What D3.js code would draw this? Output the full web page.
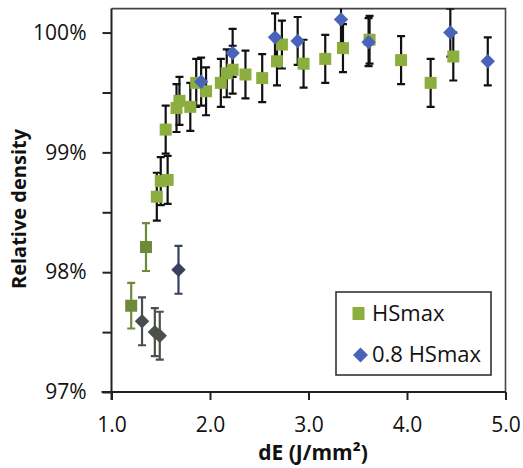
<!DOCTYPE html>
<html>
<head>
<meta charset="utf-8">
<script src="https://cdn.jsdelivr.net/npm/d3@7"></script>
<style>
  html, body { margin: 0; padding: 0; background: #ffffff; }
  svg { display: block; }
</style>
</head>
<body>
<svg id="chart" width="523" height="468"></svg>
<script>
// ---- data ----
const hsmaxX   = [1.20, 1.35, 1.46, 1.50, 1.57, 1.55, 1.66, 1.69, 1.80, 1.86, 1.96, 2.11, 2.17, 2.23, 2.36, 2.53, 2.68, 2.73, 2.95, 3.17, 3.35, 3.62, 3.94, 4.24, 4.47];
const hsmaxY   = [97.72, 98.21, 98.63, 98.76, 98.77, 99.19, 99.37, 99.43, 99.38, 99.58, 99.51, 99.58, 99.66, 99.69, 99.65, 99.62, 99.76, 99.90, 99.74, 99.78, 99.87, 99.94, 99.77, 99.58, 99.80];
const hsmaxErr = [0.19, 0.20, 0.20, 0.20, 0.20, 0.20, 0.20, 0.20, 0.20, 0.20, 0.20, 0.20, 0.20, 0.20, 0.20, 0.20, 0.20, 0.20, 0.20, 0.20, 0.20, 0.20, 0.20, 0.20, 0.20];

const hs08X    = [1.31, 1.44, 1.49, 1.68, 1.91, 2.23, 2.66, 2.89, 3.33, 3.61, 4.44, 4.82];
const hs08Y    = [97.59, 97.50, 97.47, 98.02, 99.59, 99.83, 99.96, 99.93, 100.11, 99.92, 100.00, 99.76];
const hs08Err  = [0.20, 0.20, 0.20, 0.20, 0.20, 0.20, 0.20, 0.20, 0.20, 0.20, 0.20, 0.20];

const seriesNames = ["HSmax", "0.8 HSmax"];
const xTicks = [1, 2, 3, 4, 5];
const yTicks = [97, 97.5, 98, 98.5, 99, 99.5, 100];
const yLabelTicks = [97, 98, 99, 100];
const xTitle = "dE (J/mm\u00B2)";
const yTitle = "Relative density";

// ---- layout ----
const L = 111.5, R = 505.5, T = 8.6, B = 392;
const svg = d3.select("#chart");
const x = d3.scaleLinear().domain([1, 5]).range([L, R]);
const y = d3.scaleLinear().domain([97, 100.2]).range([B, T]);

const green = "#8cae3e", blue = "#4a63b8";
const greenDark = "#6d8a3a";
const lowDiamond = d3.scaleLinear().domain([97.5, 98.0]).range(["#4b5149", "#38415d"]).clamp(true);
const lowLimit = 98.4;

const sq = hsmaxX.map((v, i) => ({x: v, y: hsmaxY[i], e: hsmaxErr[i], s: 0}));
const dm = hs08X.map((v, i) => ({x: v, y: hs08Y[i], e: hs08Err[i], s: 1}));
function markColor(d) {
  if (d.s === 0) return d.y < lowLimit ? greenDark : green;
  return d.y < lowLimit ? lowDiamond(d.y) : blue;
}
function barColor(d) { return d.y < lowLimit ? markColor(d) : "#111"; }

const font = "'Open Sans', 'Noto Sans', sans-serif";

// frame (top + right)
svg.append("path")
  .attr("d", `M${L},${T}H${R}V${B}`)
  .attr("fill", "none").attr("stroke", "#444").attr("stroke-width", 1.6);

// clip
svg.append("clipPath").attr("id", "plotClip")
  .append("rect").attr("x", L).attr("y", T).attr("width", R - L).attr("height", B - T);

// axes
const xAxis = d3.axisBottom(x).tickValues(xTicks).tickSize(8).tickFormat(d3.format(".1f"));
const gx = svg.append("g").attr("transform", `translate(0,${B})`).call(xAxis);
gx.select(".domain").attr("d", `M${L - 10},0H${R}`).attr("stroke", "#222").attr("stroke-width", 2);
gx.selectAll(".tick line").attr("stroke", "#222").attr("stroke-width", 2);
gx.selectAll(".tick text").attr("font-family", font).attr("font-size", 21).attr("fill", "#111").attr("dy", "1.37em");

const yAxis = d3.axisLeft(y).tickValues(yTicks).tickSize(9)
  .tickFormat(d => yLabelTicks.includes(d) ? d3.format("d")(d) + "%" : "");
const gy = svg.append("g").attr("transform", `translate(${L},0)`).call(yAxis);
gy.select(".domain").attr("d", `M0,${T}V${B + 8}`).attr("stroke", "#222").attr("stroke-width", 2);
gy.selectAll(".tick line").attr("stroke", "#222").attr("stroke-width", 2);
gy.selectAll(".tick text").attr("font-family", font).attr("font-size", 21).attr("fill", "#111").attr("x", -25);

// titles
svg.append("text").attr("x", 313).attr("y", 460).attr("text-anchor", "middle")
  .attr("font-family", font).attr("font-weight", "bold").attr("font-size", 21).attr("fill", "#111").text(xTitle);
svg.append("text").attr("transform", "translate(26,209) rotate(-90)").attr("text-anchor", "middle")
  .attr("font-family", font).attr("font-weight", "bold").attr("font-size", 20).attr("fill", "#111").text(yTitle);

// error bars
const plot = svg.append("g").attr("clip-path", "url(#plotClip)");
const all = sq.concat(dm);
const cap = 4;
const eb = plot.append("g").selectAll("g").data(all).join("g").attr("stroke-width", 2.2);
eb.append("line").attr("x1", d => x(d.x)).attr("x2", d => x(d.x))
  .attr("y1", d => y(d.y + d.e)).attr("y2", d => y(d.y - d.e)).attr("stroke", barColor);
eb.append("line").attr("x1", d => x(d.x) - cap).attr("x2", d => x(d.x) + cap)
  .attr("y1", d => y(d.y + d.e)).attr("y2", d => y(d.y + d.e)).attr("stroke", barColor);
eb.append("line").attr("x1", d => x(d.x) - cap).attr("x2", d => x(d.x) + cap)
  .attr("y1", d => y(d.y - d.e)).attr("y2", d => y(d.y - d.e)).attr("stroke", barColor);

// markers
const sqSize = 12, dmSize = 7.2;
plot.append("g").selectAll("rect").data(sq).join("rect")
  .attr("x", d => x(d.x) - sqSize / 2).attr("y", d => y(d.y) - sqSize / 2)
  .attr("width", sqSize).attr("height", sqSize).attr("fill", markColor);
plot.append("g").selectAll("path").data(dm).join("path")
  .attr("d", d => { const cx = x(d.x), cy = y(d.y), r = dmSize;
    return `M${cx},${cy - r}L${cx + r},${cy}L${cx},${cy + r}L${cx - r},${cy}Z`; })
  .attr("fill", markColor);

// legend
const lg = svg.append("g");
lg.append("rect").attr("x", 336).attr("y", 292).attr("width", 155).attr("height", 83)
  .attr("fill", "#fff").attr("stroke", "#333").attr("stroke-width", 1.6);
lg.append("rect").attr("x", 352.5).attr("y", 307).attr("width", 12).attr("height", 13).attr("fill", green);
lg.append("path").attr("d", "M360.5,347.5L368,355L360.5,362.5L353,355Z").attr("fill", blue);
lg.selectAll("text.lab").data(seriesNames).join("text").attr("class", "lab")
  .attr("x", 372).attr("y", (d, i) => 321 + i * 41)
  .attr("font-family", font).attr("font-size", 22).attr("fill", "#111").text(d => d);
</script>
</body>
</html>
